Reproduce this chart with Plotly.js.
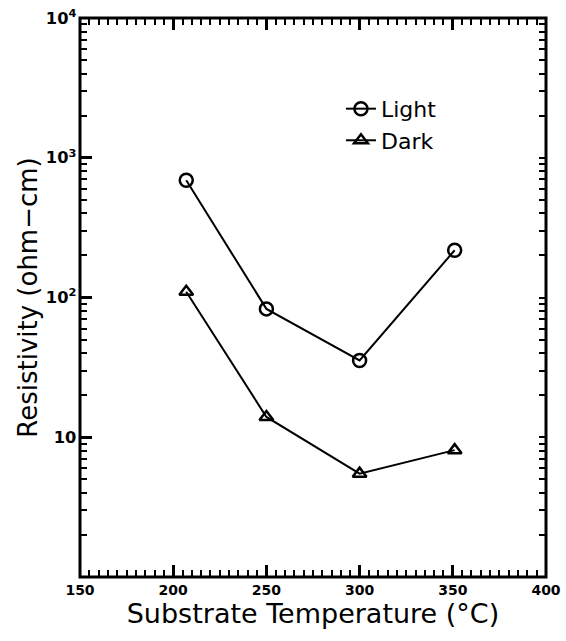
<!DOCTYPE html>
<html>
<head>
<meta charset="utf-8">
<script src="https://cdn.plot.ly/plotly-3.0.1.min.js"></script>
<style>html,body{margin:0;padding:0;background:#fff;}#chart{width:566px;height:641px;}</style>
</head>
<body>
<div id="chart"></div>
<script>
const temperatures = [207, 250, 300, 351];
const lightResistivity = [690, 83, 35.5, 218];
const darkResistivity = [110, 14, 5.5, 8.1];
const seriesNames = ['Light', 'Dark'];

const font = '"DejaVu Sans", sans-serif';
const tickFont = '"DejaVu Sans", sans-serif';
const traces = [
  {x: temperatures, y: lightResistivity, name: seriesNames[0], type: 'scatter', mode: 'lines+markers',
   line: {color: '#000', width: 2},
   marker: {symbol: 'circle-open', size: 13, color: '#000', line: {width: 2.5}}},
  {x: temperatures, y: darkResistivity, name: seriesNames[1], type: 'scatter', mode: 'lines+markers',
   line: {color: '#000', width: 2},
   marker: {symbol: 'triangle-up-open', size: 12, color: '#000', line: {width: 2.5}}},
  {x: temperatures, y: lightResistivity, xaxis: 'x2', yaxis: 'y2', type: 'scatter', mode: 'markers',
   marker: {opacity: 0}, showlegend: false, hoverinfo: 'skip'},
  {x: temperatures, y: lightResistivity, xaxis: 'x', yaxis: 'y3', type: 'scatter', mode: 'markers',
   marker: {opacity: 0}, showlegend: false, hoverinfo: 'skip'}
];

const xTicks = {
  range: [150, 400], dtick: 50,
  ticks: 'inside', ticklen: 12, tickwidth: 3, tickcolor: '#000',
  showline: true, linewidth: 1, linecolor: '#000',
  showgrid: false, zeroline: false,
  minor: {dtick: 5, ticks: 'inside', ticklen: 7, tickwidth: 2, tickcolor: '#000'}
};
const yMinorTicks = {
  type: 'log', range: [0.001, 4], dtick: 'D1',
  ticks: 'inside', ticklen: 7, tickwidth: 2, tickcolor: '#000',
  showline: false, showgrid: false, zeroline: false, showticklabels: false
};

const layout = {
  width: 566, height: 641,
  margin: {l: 80, r: 20, t: 18, b: 64},
  showlegend: true,
  legend: {x: 0.56, y: 0.875, xanchor: 'left', yanchor: 'top', bgcolor: 'rgba(0,0,0,0)',
           font: {family: font, size: 22, color: '#000'}},
  xaxis: Object.assign({}, xTicks, {
    tickfont: {family: tickFont, size: 14, color: '#000', weight: 'bold'},
    title: {text: 'Substrate Temperature (°C)', font: {family: font, size: 27, color: '#000'}, standoff: 2}
  }),
  yaxis: {
    type: 'log', range: [0.001, 4], dtick: 1, exponentformat: 'power',
    ticks: 'inside', ticklen: 12, tickwidth: 3, tickcolor: '#000',
    showline: true, linewidth: 1, linecolor: '#000',
    showgrid: false, zeroline: false,
    tickfont: {family: tickFont, size: 13, color: '#000', weight: 'bold'},
    title: {text: 'Resistivity (ohm−cm)', font: {family: font, size: 26, color: '#000'}, standoff: 0}
  },
  xaxis2: Object.assign({}, xTicks, {overlaying: 'x', side: 'top', anchor: 'y', showticklabels: false}),
  yaxis2: Object.assign({}, yMinorTicks, {overlaying: 'y', side: 'right', anchor: 'x'}),
  yaxis3: Object.assign({}, yMinorTicks, {overlaying: 'y', side: 'left', anchor: 'x'}),
  shapes: [{type: 'rect', xref: 'paper', yref: 'paper', x0: 0, x1: 1, y0: 0, y1: 1,
            line: {color: '#000', width: 3}, fillcolor: 'rgba(0,0,0,0)', layer: 'above'}]
};

Plotly.newPlot('chart', traces, layout, {displayModeBar: false});
</script>
</body>
</html>
